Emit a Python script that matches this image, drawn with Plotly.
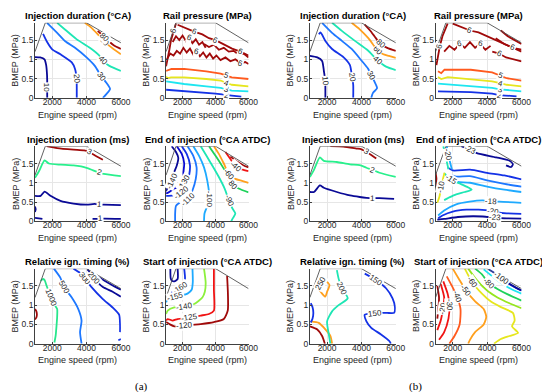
import math
import plotly.graph_objects as go

# ---------------- DATA ----------------
RPM_TICKS = [2000, 4000, 6000]
BMEP_TICKS = [0, 0.5, 1, 1.5]
RPM_TICK_TEXT = ["2000", "4000", "6000"]
BMEP_TICK_TEXT = ["0", "0.5", "1", "1.5"]

TITLES = [
    "Injection duration (°CA)", "Rail pressure (MPa)", "Injection duration (°CA)", "Rail pressure (MPa)",
    "Injection duration (ms)", "End of injection (°CA ATDC)", "Injection duration (ms)", "End of injection (°CA ATDC)",
    "Relative ign. timing (%)", "Start of injection (°CA ATDC)", "Relative ign. timing (%)", "Start of injection (°CA ATDC)",
]
X_TITLE = "Engine speed (rpm)"
Y_TITLE = "BMEP (MPa)"
PANEL_TAGS = ["(a)", "(b)"]

FULL_LOAD_RPM = [1000, 1600, 4000, 6000]
FULL_LOAD_BMEP = [1.2, 1.95, 1.95, 1.43]

# each contour: (label, rpm list, bmep list, label vertex indices)
INJ_DUR_CA_A = [
    ("10", [1000, 1300, 1550, 1650, 1700, 1710, 1710, 1710], [1.06, 1.05, 1.0, 0.85, 0.6, 0.45, 0.28, 0.0], [6]),
    ("20", [1470, 1680, 2000, 2480, 3140, 3330, 3420, 3430, 3430], [1.66, 1.47, 1.26, 1.13, 0.92, 0.75, 0.5, 0.25, 0.0], [6]),
    ("30", [1700, 2290, 2760, 3330, 4000, 4480, 4860, 5140, 5370, 5140, 4950], [1.95, 1.69, 1.47, 1.30, 1.05, 0.83, 0.56, 0.40, 0.23, 0.09, 0.0], [6]),
    ("40", [2290, 2760, 3430, 4190, 4760, 4950, 5330, 6000], [1.95, 1.77, 1.52, 1.30, 1.09, 0.96, 0.83, 0.70], [5]),
    ("60", [3900, 4290, 4760, 5050, 5330, 6000], [1.95, 1.82, 1.60, 1.47, 1.35, 1.13], [3]),
    ("80", [4650, 4850, 5050, 5300, 5600, 6000], [1.74, 1.66, 1.58, 1.47, 1.36, 1.27], [2]),
]
RAIL_P_A = [
    ("2", [1000, 2000, 3060, 4000, 4400, 4690, 4980, 5560], [0.21, 0.18, 0.15, 0.11, 0.09, 0.07, 0.06, 0.03], [5]),
    ("3", [1000, 2100, 3440, 4310, 4690, 4980, 6000], [0.43, 0.36, 0.30, 0.26, 0.22, 0.19, 0.17], [4]),
    ("4", [1000, 1100, 1300, 2100, 3440, 4310, 4690, 4980, 6000], [0.55, 0.51, 0.53, 0.53, 0.49, 0.45, 0.38, 0.34, 0.30], [6]),
    ("5", [1000, 1330, 2100, 3440, 4310, 4690, 4980, 6000], [0.70, 0.75, 0.75, 0.69, 0.63, 0.58, 0.53, 0.49], [5]),
    ("6", [1000, 1100, 1200, 1300, 1450, 1600], [0.82, 1.0, 1.25, 1.5, 1.75, 1.93], [4]),
    ("6", [1700, 2200, 2700, 3200, 3600, 4000, 4500, 5000, 5500, 6000], [1.9, 1.8, 1.72, 1.65, 1.55, 1.5, 1.38, 1.28, 1.2, 1.1], [2, 5, 8]),
    ("6", [1050, 1250, 1450, 1650, 1850, 2050, 2250, 2450, 2650, 2850, 3050, 3250, 3450, 3650, 3850, 4050, 4300, 4600, 4900, 5200, 5500, 5800, 6000],
     [1.0, 1.15, 1.1, 1.22, 1.15, 1.3, 1.18, 1.28, 1.12, 1.2, 1.08, 1.18, 1.05, 1.15, 1.02, 1.1, 0.98, 1.05, 0.95, 1.0, 0.9, 0.93, 0.88], [9, 20]),
    ("6", [1400, 1600, 1800, 2000, 2200, 2400, 2600, 2800, 3000, 3200, 3400], [1.45, 1.6, 1.5, 1.62, 1.48, 1.58, 1.42, 1.52, 1.38, 1.45, 1.3], [5]),
    ("6", [3300, 3600, 3900, 4200, 4500, 4800, 5100, 5400, 5700, 6000], [1.4, 1.32, 1.38, 1.25, 1.3, 1.2, 1.22, 1.12, 1.15, 1.05], []),
]
INJ_DUR_CA_B = [
    ("10", [1000, 1430, 1710, 1810, 1890, 1900, 1900], [1.09, 1.05, 0.96, 0.71, 0.45, 0.28, 0.0], [4]),
    ("20", [1520, 1620, 1900, 2290, 2950, 3330, 3450, 3520, 3520], [1.65, 1.70, 1.48, 1.27, 1.06, 0.85, 0.55, 0.34, 0.0], [6]),
    ("30", [1710, 2290, 2860, 3430, 4000, 4380, 4570, 4760, 4910, 4670, 4570], [1.95, 1.69, 1.48, 1.27, 0.97, 0.76, 0.59, 0.42, 0.25, 0.13, 0.0], [6]),
    ("40", [2290, 2860, 3620, 4380, 4950, 5430, 6000], [1.95, 1.74, 1.48, 1.23, 0.97, 0.81, 0.72], [4]),
    ("60", [3430, 3900, 4400, 4950, 5240, 5600, 6000], [1.95, 1.78, 1.55, 1.23, 1.14, 1.09, 1.04], [3]),
    ("80", [4190, 4500, 4760, 5100, 5500, 6000], [1.9, 1.75, 1.6, 1.4, 1.3, 1.22], [3]),
]
RAIL_P_B = [
    ("2", [1140, 3050, 4290, 4700, 5050, 5710], [0.17, 0.15, 0.11, 0.07, 0.06, 0.04], [3]),
    ("3", [1140, 2100, 3050, 4290, 4760, 5140, 6000], [0.37, 0.34, 0.30, 0.26, 0.22, 0.20, 0.17], [4]),
    ("4", [1140, 1330, 1710, 3050, 4290, 4760, 5140, 6000], [0.54, 0.49, 0.54, 0.49, 0.43, 0.38, 0.34, 0.30], [5]),
    ("5", [1140, 1330, 1520, 3050, 4290, 4760, 5140, 6000], [0.69, 0.64, 0.73, 0.73, 0.66, 0.57, 0.51, 0.45], [5]),
    ("6", [1050, 1150, 1250, 1400, 1600, 1700], [0.85, 1.1, 1.35, 1.6, 1.85, 1.93], [2]),
    ("6", [1500, 1800, 2100, 2400, 2700, 3000, 3300, 3600, 3900, 4200], [1.2, 1.35, 1.25, 1.4, 1.3, 1.45, 1.3, 1.4, 1.25, 1.35], [3, 7]),
    ("6", [2000, 2500, 3000, 3500, 4000, 4500, 5000, 5500, 6000], [1.93, 1.85, 1.75, 1.7, 1.6, 1.5, 1.4, 1.3, 1.2], [2, 7]),
    ("6", [4300, 4700, 5100, 5500, 6000], [1.2, 1.15, 1.05, 1.0, 0.95], [1]),
    ("6", [4500, 5000, 5500, 6000], [1.55, 1.4, 1.3, 1.25], [2]),
    ("6", [4800, 5200, 5600, 6000], [1.75, 1.6, 1.5, 1.4], []),
]
INJ_DUR_MS_A = [
    ("1", [1000, 1330, 1560, 1900, 2480, 3240, 4000, 4480, 4760, 5000, 6000], [0.66, 0.66, 0.77, 0.66, 0.53, 0.46, 0.43, 0.45, 0.43, 0.43, 0.42], [8]),
    ("1", [4350, 4600, 4800, 5000, 6000], [0.06, 0.06, 0.06, 0.07, 0.06], [2]),
    ("", [1000, 1430], [0.09, 0.06], []),
    ("", [1000, 1040, 1000], [0.38, 0.31, 0.24], []),
    ("2", [1000, 1230, 1560, 1810, 2500, 3240, 4000, 4380, 4760, 5000, 6000], [1.13, 1.30, 1.58, 1.50, 1.47, 1.45, 1.39, 1.32, 1.26, 1.23, 1.17], [8]),
    ("3", [1680, 2290, 3240, 3860, 4150, 4570, 4950], [1.95, 1.90, 1.86, 1.84, 1.80, 1.69, 1.60], [4]),
]
END_INJ_A = [
    ("-140", [1340, 1600, 1740, 1650, 1440, 1400, 1040, 1000], [1.95, 1.8, 1.65, 1.45, 1.22, 1.05, 0.83, 0.78], [5]),
    ("-130", [1650, 1950, 2100, 2050, 2100, 1500, 1150, 1000], [1.95, 1.75, 1.5, 1.25, 1.0, 0.85, 0.75, 0.72], [4]),
    ("-120", [1950, 2250, 2450, 2400, 2250, 1940, 1500, 1150, 1000], [1.95, 1.75, 1.45, 1.2, 0.95, 0.75, 0.68, 0.66, 0.66], [5]),
    ("-110", [2300, 2650, 2850, 2800, 2600, 2330, 1900, 1600, 1550, 1550], [1.95, 1.7, 1.4, 1.1, 0.8, 0.57, 0.5, 0.4, 0.2, 0.0], [5]),
    ("-100", [2650, 3000, 3300, 3500, 3630, 3500, 3330, 3300], [1.95, 1.7, 1.4, 1.05, 0.57, 0.4, 0.2, 0.0], [4]),
    ("-90", [3100, 3450, 3800, 4200, 4550, 4820, 5000, 5200, 5050, 4950], [1.95, 1.7, 1.45, 1.15, 0.85, 0.53, 0.35, 0.2, 0.08, 0.0], [5]),
    ("-80", [3600, 4000, 4450, 4800, 5020, 5400, 6000], [1.95, 1.7, 1.4, 1.15, 0.96, 0.85, 0.75], [4]),
    ("-60", [3900, 4200, 4500, 4820, 5200, 5600, 6000], [1.95, 1.75, 1.5, 1.22, 1.1, 1.05, 1.0], [3]),
    ("-40", [4600, 4900, 5220, 5600, 6000], [1.8, 1.62, 1.43, 1.35, 1.3], [2]),
    ("", [4900, 5300, 5700, 6000], [1.68, 1.55, 1.45, 1.4], []),
]
INJ_DUR_MS_B = [
    ("1", [1000, 1240, 1580, 1810, 2570, 3330, 3900, 4290, 4670, 5050, 5900], [0.76, 0.76, 0.93, 0.87, 0.76, 0.67, 0.63, 0.61, 0.60, 0.60, 0.58], [8]),
    ("2", [1000, 1230, 1580, 1810, 2570, 3330, 3900, 4290, 4670, 5050, 6000], [1.15, 1.33, 1.66, 1.57, 1.54, 1.48, 1.46, 1.39, 1.33, 1.26, 1.15], [8]),
    ("3", [2190, 2950, 3710, 4000, 4290, 4570, 4860], [1.95, 1.94, 1.89, 1.87, 1.80, 1.72, 1.63], [4]),
]
END_INJ_B = [
    ("-23", [2500, 2980, 3400, 4530, 5310, 5500, 5400, 5100], [1.95, 1.86, 1.77, 1.66, 1.57, 1.48, 1.41, 1.45], [1]),
    ("", [1700, 2000, 3000, 4000, 5000, 6000], [1.40, 1.32, 1.34, 1.26, 1.19, 1.09], []),
    ("", [1800, 2200, 3000, 4000, 5000, 6000], [1.22, 1.16, 1.17, 1.06, 0.97, 0.90], []),
    ("", [1900, 2300, 3000, 4000, 5000, 6000], [1.06, 1.02, 1.0, 0.9, 0.82, 0.76], []),
    ("-15", [1500, 1900, 2400, 2800, 3100, 2700, 2200, 1800, 1500], [1.25, 1.08, 0.98, 0.9, 0.82, 0.76, 0.70, 0.62, 0.55], [1]),
    ("-18", [1150, 1500, 2200, 2980, 3750, 4240, 4720, 6000], [0.15, 0.28, 0.44, 0.51, 0.54, 0.51, 0.51, 0.48], [5]),
    ("-20", [1150, 1400, 2000, 2800, 3500, 4340, 4800, 6000], [0.08, 0.15, 0.25, 0.3, 0.3, 0.26, 0.22, 0.19], [5]),
    ("-23", [1100, 1500, 2300, 3200, 4430, 4800, 6000], [0.04, 0.06, 0.11, 0.13, 0.10, 0.08, 0.07], [4]),
    ("", [1000, 1050, 1060, 1040, 1000], [0.75, 0.85, 1.0, 1.15, 1.25], []),
    ("-10", [1100, 1230, 1330, 1430, 1520], [0.48, 0.65, 0.9, 1.1, 1.26], [2]),
    ("", [1450, 1550, 1650, 1750], [1.95, 1.75, 1.55, 1.35], []),
    ("-20", [1650, 1750, 1850, 1950], [1.95, 1.72, 1.52, 1.35], [1]),
]
REL_IGN_A = [
    ("", [1000, 1080, 1110, 1080, 1000], [0.9, 0.84, 0.75, 0.68, 0.63], []),
    ("1000", [1330, 1450, 1560, 1680, 1930, 2150, 2290, 2290, 2250, 2200, 2130], [1.63, 1.68, 1.65, 1.50, 1.2, 1.0, 0.9, 0.7, 0.45, 0.2, 0.03], [4]),
    ("500", [2100, 2480, 2700, 3140, 3520, 3710, 3620, 3710], [1.95, 1.71, 1.46, 1.2, 0.9, 0.6, 0.3, 0.0], [2]),
    ("300", [3240, 3620, 3900, 4290, 4950, 5520, 5900, 5950, 5950], [1.95, 1.84, 1.70, 1.47, 1.16, 0.94, 0.75, 0.5, 0.3], [2]),
    ("", [5850, 6000], [0.09, 0.12], []),
    ("200", [4050, 4300, 4450, 4950, 5520, 6000], [1.93, 1.8, 1.7, 1.47, 1.35, 1.22], [2]),
    ("", [4600, 5000, 5500, 6000], [1.76, 1.65, 1.52, 1.40], []),
]
SOI_A = [
    ("", [1260, 1280, 1350, 1500, 1700, 1700], [1.95, 1.70, 1.64, 1.62, 1.68, 1.95], []),
    ("-160", [2100, 2150, 2100, 1900, 1600, 1400, 1300], [1.95, 1.7, 1.55, 1.45, 1.40, 1.35, 1.28], [3]),
    ("-155", [2600, 2620, 2550, 2300, 1900, 1600, 1300, 1100, 1000], [1.95, 1.6, 1.40, 1.30, 1.25, 1.22, 1.18, 1.12, 1.08], [5]),
    ("-140", [3300, 3400, 3350, 3200, 2700, 2100, 1500, 1100, 1000], [1.95, 1.59, 1.35, 1.2, 1.03, 0.96, 0.94, 0.86, 0.77], [5]),
    ("-125", [3900, 3900, 3900, 3600, 3100, 2400, 1700, 1400, 1100, 1000], [1.95, 1.4, 0.86, 0.77, 0.73, 0.68, 0.64, 0.60, 0.64, 0.6], [5]),
    ("-120", [4700, 4750, 4740, 4500, 3900, 3100, 2100, 1500, 1200, 1000], [1.76, 1.3, 0.86, 0.64, 0.56, 0.51, 0.47, 0.45, 0.51, 0.56], [6]),
]
REL_IGN_B = [
    ("", [1000, 1430, 1710, 1870], [0.45, 0.37, 0.2, 0.0], []),
    ("", [1050, 1520, 1900, 2190, 2290], [0.58, 0.54, 0.37, 0.2, 0.0], []),
    ("250", [1520, 1620, 1710, 2000, 2140, 2000, 1900, 1710, 1520], [1.44, 1.56, 1.6, 1.6, 1.52, 1.35, 1.22, 1.3, 1.44], [1]),
    ("200", [2570, 2670, 2860, 3200, 2670, 2290, 2000, 2100, 2190], [1.91, 1.69, 1.44, 1.18, 1.0, 0.84, 0.58, 0.24, 0.0], [2]),
    ("", [1050, 1150, 1200, 1150, 1050], [1.05, 0.95, 0.8, 0.65, 0.55], []),
    ("150", [4190, 4860, 5430, 5810, 5950, 5900, 5500, 5240, 4760, 4190, 4290, 4570, 5140, 5620, 5710],
     [1.82, 1.65, 1.44, 1.18, 0.95, 0.8, 0.8, 0.8, 0.79, 0.75, 0.58, 0.41, 0.24, 0.07, 0.0], [1, 8]),
]
SOI_B = [
    ("", [1100, 1200, 1150, 1100], [1.5, 1.2, 0.85, 0.65], []),
    ("-20", [1300, 1500, 1430, 1300, 1100], [1.55, 1.2, 0.91, 0.6, 0.35], [2]),
    ("-30", [1450, 1700, 1810, 1750, 1500, 1200], [1.62, 1.3, 1.02, 0.65, 0.3, 0.1], [2]),
    ("-40", [1650, 1950, 2250, 2450, 2400, 2100, 1800], [1.75, 1.5, 1.22, 0.9, 0.5, 0.2, 0.0], [2]),
    ("-50", [2000, 2400, 2760, 3300, 3800, 3950, 3800, 3300, 3000, 2900], [1.95, 1.65, 1.39, 1.1, 0.9, 0.7, 0.5, 0.3, 0.1, 0.0], [2]),
    ("-60", [2700, 3140, 3700, 4200, 4800, 5500, 5600, 5450, 5800, 5300, 4800, 4400], [1.95, 1.59, 1.3, 1.1, 0.95, 0.8, 0.6, 0.45, 0.28, 0.2, 0.12, 0.0], [1]),
    ("", [2900, 3400, 4000, 4600, 5300, 6000], [1.95, 1.65, 1.38, 1.2, 1.05, 0.92], []),
    ("-80", [3300, 3700, 4100, 4600, 5200, 6000], [1.95, 1.8, 1.57, 1.42, 1.28, 1.12], [2]),
    ("", [3800, 4300, 4900, 5400, 6000], [1.93, 1.75, 1.55, 1.42, 1.30], []),
    ("-100", [4100, 4500, 4860, 5400, 6000], [1.93, 1.82, 1.70, 1.52, 1.38], [2]),
    ("", [4700, 5200, 5700, 6000], [1.72, 1.58, 1.45, 1.38], []),
]

PANELS = [INJ_DUR_CA_A, RAIL_P_A, INJ_DUR_CA_B, RAIL_P_B,
          INJ_DUR_MS_A, END_INJ_A, INJ_DUR_MS_B, END_INJ_B,
          REL_IGN_A, SOI_A, REL_IGN_B, SOI_B]

# ---------------- STYLE ----------------
NAVY, BLUE, LBLUE, SKY, CYAN, TEAL, GREEN, LGREEN, YELLOW, ORANGE, ORED, RED, DRED = (
    "#0A0A96", "#1432E6", "#1E78FF", "#1EAAFF", "#1EE6F0", "#1EE6B4", "#1ED25A", "#96E61E",
    "#E6E61E", "#FFA01E", "#FF5A1E", "#F01414", "#A00A0A")
COLORS = [
    [NAVY, BLUE, LBLUE, TEAL, ORANGE, DRED],
    [BLUE, CYAN, YELLOW, ORED, DRED, DRED, DRED, DRED, DRED],
    [NAVY, BLUE, LBLUE, TEAL, ORANGE, DRED],
    [BLUE, CYAN, YELLOW, ORED, DRED, DRED, DRED, DRED, DRED, DRED],
    [NAVY, NAVY, NAVY, NAVY, "#28F08C", DRED],
    [NAVY, "#0A0AD2", BLUE, LBLUE, SKY, TEAL, GREEN, ORANGE, RED, DRED],
    [NAVY, "#28F08C", DRED],
    [NAVY, BLUE, LBLUE, SKY, TEAL, SKY, BLUE, NAVY, DRED, YELLOW, TEAL, SKY],
    [DRED, "#28E68C", LBLUE, BLUE, BLUE, NAVY, NAVY],
    [NAVY, BLUE, SKY, "#8CF03C", RED, DRED],
    [DRED, ORANGE, ORANGE, TEAL, BLUE, BLUE],
    [DRED, RED, RED, ORED, ORANGE, YELLOW, LGREEN, GREEN, CYAN, BLUE, NAVY],
]
JAGGED_PANELS = {1, 3}  # rail-pressure maps are drawn with straight segments

W, H = 550, 392
COL_PX = [(27.5, 115), (161, 245), (307.5, 395), (435.5, 523)]
ROW_PX = [(15, 91), (140, 216), (264, 340)]
X_RANGE = [1000, 6000]
Y_RANGE = [0, 1.95]
FONT = "Liberation Sans, Arial, sans-serif"
TXT = "#262626"
SX = (COL_PX[0][1] - COL_PX[0][0]) / (X_RANGE[1] - X_RANGE[0])
SY = (ROW_PX[0][1] - ROW_PX[0][0]) / (Y_RANGE[1] - Y_RANGE[0])


def label_angle(xs, ys, i):
    j0, j1 = max(i - 1, 0), min(i + 1, len(xs) - 1)
    dx = (xs[j1] - xs[j0]) * SX
    dy = -(ys[j1] - ys[j0]) * SY
    a = math.degrees(math.atan2(dy, dx))
    if a > 90:
        a -= 180
    if a < -90:
        a += 180
    return a


def paper_text(px, py, text, size, color, angle=0, family=FONT):
    return dict(x=px / W, y=1 - py / H, xref="paper", yref="paper", text=text, showarrow=False,
                xanchor="center", yanchor="middle", textangle=angle,
                font=dict(size=size, color=color, family=family))


fig = go.Figure()
annotations = []
layout = dict(width=W, height=H, margin=dict(l=0, r=0, t=0, b=0),
              paper_bgcolor="white", plot_bgcolor="white", showlegend=False,
              font=dict(family=FONT, color=TXT))

for k, panel in enumerate(PANELS):
    r, c = divmod(k, 4)
    x0, x1 = COL_PX[c]
    y0, y1 = ROW_PX[r]
    sfx = "" if k == 0 else str(k + 1)
    xref, yref = "x" + sfx, "y" + sfx
    common = dict(showgrid=True, gridcolor="#E6E6E6", gridwidth=1, zeroline=False,
                  showline=True, linecolor="#404040", linewidth=0.8, ticks="inside", ticklen=2,
                  tickcolor="#404040", tickfont=dict(size=8.5, color=TXT, family=FONT))
    layout["xaxis" + sfx] = dict(domain=[x0 / W, x1 / W], anchor=yref, range=X_RANGE,
                                 tickvals=RPM_TICKS, ticktext=RPM_TICK_TEXT, ticklabelstandoff=-4, **common)
    layout["yaxis" + sfx] = dict(domain=[1 - y1 / H, 1 - y0 / H], anchor=xref, range=Y_RANGE,
                                 tickvals=BMEP_TICKS, ticktext=BMEP_TICK_TEXT, ticklabelstandoff=-1, **common)
    shape = "linear" if k in JAGGED_PANELS else "spline"
    for li, (lab, xs, ys, idxs) in enumerate(panel):
        fig.add_trace(go.Scatter(x=xs, y=ys, mode="lines", xaxis=xref, yaxis=yref,
                                 line=dict(color=COLORS[k][li], width=1.8, shape=shape, smoothing=0.6),
                                 hoverinfo="skip"))
        for i in idxs:
            annotations.append(dict(x=xs[i], y=ys[i], xref=xref, yref=yref, text=lab, showarrow=False,
                                    xanchor="center", yanchor="middle",
                                    textangle=label_angle(xs, ys, i), bgcolor="white", borderpad=0,
                                    font=dict(size=8, color=TXT, family=FONT)))
    fig.add_trace(go.Scatter(x=FULL_LOAD_RPM, y=FULL_LOAD_BMEP, mode="lines", xaxis=xref, yaxis=yref,
                             line=dict(color="#505050", width=0.9), hoverinfo="skip"))
    cx = (x0 + x1) / 2
    annotations.append(paper_text(cx, y0 - 7, "<b>" + TITLES[k] + "</b>", 9.5, "black"))
    annotations.append(paper_text(cx, y1 + 17, X_TITLE, 9, TXT))
    annotations.append(paper_text(x0 - 20, (y0 + y1) / 2, Y_TITLE, 9, TXT, angle=-90))

for tag, px in zip(PANEL_TAGS, [136, 415]):
    annotations.append(paper_text(px, 383, tag, 11, "black", family="Liberation Serif, Times New Roman, serif"))

layout["annotations"] = annotations
fig.update_layout(**layout)
fig.write_html("out.html")
